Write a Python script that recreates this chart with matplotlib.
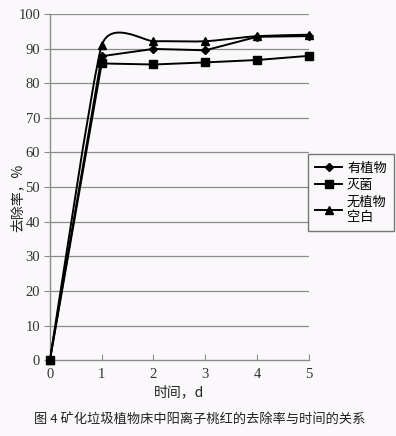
import numpy as np
import matplotlib
matplotlib.use('Agg')
from matplotlib import pyplot as plt
from matplotlib.path import Path
from matplotlib.patches import PathPatch
from matplotlib.lines import Line2D

plt.rcParams['font.family'] = ['Noto Sans CJK SC', 'DejaVu Sans']

#Data
days = [0, 1, 2, 3, 4, 5]
plant = [0, 87.8, 89.9, 89.5, 93.4, 93.6]
sterile = [0, 85.7, 85.4, 86.0, 86.7, 87.9]
blank = [0, 90.9, 92.1, 92.1, 93.6, 94.0]
labels = ['有植物', '灭菌', '无植物\n空白']
yticks = list(range(0, 101, 10))

bg = '#fbf8fb'
axc = '#8c8c8c'
num_font = 'Liberation Serif'


#Smoothed line like the spreadsheet one (bezier through the points)
def smooth_path(xs, ys, k=12):
    P = np.column_stack([xs, ys]).astype(float)
    n = len(P)
    verts = [P[0]]
    codes = [Path.MOVETO]
    for i in range(n - 1):
        p0 = P[i - 1] if i > 0 else P[i]
        p1 = P[i]
        p2 = P[i + 1]
        p3 = P[i + 2] if i + 2 < n else P[i + 1]
        c1 = p1 + (p2 - p0) / k
        c2 = p2 - (p3 - p1) / k
        verts += [c1, c2, p2]
        codes += [Path.CURVE4] * 3
    return Path(verts, codes)


fig = plt.figure(figsize=(3.96, 4.36), dpi=100, facecolor=bg)
ax = fig.add_axes([0.126, 0.174, 0.654, 0.794])
ax.set_facecolor(bg)

ax.plot(days, plant, color='k', lw=1.4, marker='D', ms=4, clip_on=False, zorder=3)
ax.plot(days, sterile, color='k', lw=1.4, marker='s', ms=5.5, clip_on=False, zorder=3)
ax.add_patch(PathPatch(smooth_path(days, blank), fill=False, ec='k', lw=1.4, zorder=3))
ax.plot(days, blank, ls='none', color='k', marker='^', ms=5.5, clip_on=False, zorder=4)

ax.set_xlim(0, 5)
ax.set_ylim(0, 100)
ax.set_yticks(yticks)
ax.set_xticks(days)
for y in yticks[1:]:
    ax.axhline(y, color=axc, lw=0.9, zorder=1)

for s in ['top', 'right']:
    ax.spines[s].set_visible(False)
for s in ['left', 'bottom']:
    ax.spines[s].set_color(axc)
    ax.spines[s].set_linewidth(1.0)
ax.tick_params(axis='y', direction='out', length=4, color=axc, pad=3)
ax.tick_params(axis='x', direction='in', length=4, color=axc, pad=6)
for t in ax.get_xticklabels() + ax.get_yticklabels():
    t.set_fontfamily(num_font)
    t.set_fontsize(10.5)
    t.set_color('#333333')

ax.set_xlabel('时间，d', fontsize=10, labelpad=3, color='#222222')
ax.set_ylabel('去除率，%', fontsize=10, color='#222222')
ax.yaxis.set_label_coords(-0.097, 0.47)

handles = [Line2D([], [], color='k', lw=1.4, marker='D', ms=4),
           Line2D([], [], color='k', lw=1.4, marker='s', ms=5.5),
           Line2D([], [], color='k', lw=1.4, marker='^', ms=5.5)]
leg = fig.legend(handles, labels, loc='upper left', bbox_to_anchor=(0.778, 0.646),
                 fontsize=9.5, frameon=True, fancybox=False, handlelength=2.0,
                 handletextpad=0.4, borderpad=0.55, labelspacing=0.3, borderaxespad=0)
leg.get_frame().set_edgecolor('#555555')
leg.get_frame().set_facecolor(bg)
leg.get_frame().set_linewidth(1.0)

fig.text(0.503, 0.039, '图 4 矿化垃圾植物床中阳离子桃红的去除率与时间的关系',
         ha='center', va='center', fontsize=9.5, color='#222222')

fig.savefig('out.png', dpi=100, facecolor=bg)
